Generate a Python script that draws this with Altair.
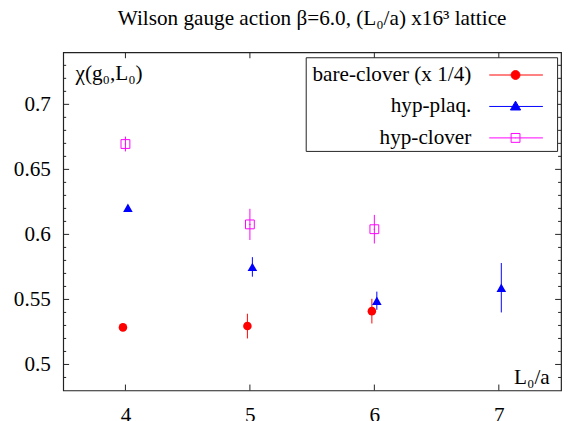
import altair as alt
import pandas as pd

# ---- data ----
series = ["bare-clover (x 1/4)", "hyp-plaq.", "hyp-clover"]
colors = ["#ff0000", "#0000ff", "#ff00ff"]

bare_x = [3.98, 4.98, 5.98]
bare_y = [0.5285, 0.5295, 0.541]
bare_err = [0.002, 0.0095, 0.0095]

plaq_x = [4.02, 5.02, 6.02, 7.02]
plaq_y = [0.6205, 0.575, 0.549, 0.559]
plaq_err = [0.0015, 0.0075, 0.007, 0.019]

hc_x = [4.0, 5.0, 6.0]
hc_y = [0.6695, 0.6077, 0.604]
hc_err = [0.0057, 0.012, 0.011]

x_ticks = [4, 5, 6, 7]
y_major = [0.5, 0.55, 0.6, 0.65, 0.7]
y_minor = [0.49, 0.51, 0.52, 0.53, 0.54, 0.56, 0.57, 0.58, 0.59, 0.61, 0.62,
           0.63, 0.64, 0.66, 0.67, 0.68, 0.69, 0.71, 0.72, 0.73]

FONT = "Liberation Serif"
FS = 21.5
W, H = 505, 343

rows = []
for name, xs_, ys_, es_ in [(series[0], bare_x, bare_y, bare_err),
                            (series[1], plaq_x, plaq_y, plaq_err),
                            (series[2], hc_x, hc_y, hc_err)]:
    for xv, yv, ev in zip(xs_, ys_, es_):
        rows.append({"series": name, "x": xv, "y": yv, "lo": yv - ev, "hi": yv + ev})
df = pd.DataFrame(rows)

xs = alt.Scale(domain=[3.5, 7.5], nice=False, zero=False)
ys = alt.Scale(domain=[0.48, 0.74], nice=False, zero=False)

AX = alt.Axis(
    values=x_ticks, format="d", ticks=False, tickSize=0, domain=False, grid=False,
    labelFont=FONT, labelFontSize=FS, labelColor="black", labelPadding=14,
    title="L\u2080/a", titleFont=FONT, titleFontSize=FS, titleFontWeight="normal",
    titleColor="black", titleAlign="right", titleBaseline="alphabetic",
    titleAnchor="end", titleX=493, titleY=-7)
AY = alt.Axis(
    values=y_major, format="~g", ticks=False, tickSize=0, domain=False, grid=False,
    labelFont=FONT, labelFontSize=FS, labelColor="black", labelPadding=13,
    title="\u03c7(g\u2080,L\u2080)", titleFont=FONT, titleFontSize=FS,
    titleFontWeight="normal", titleColor="black", titleAngle=0,
    titleAlign="left", titleBaseline="alphabetic", titleX=12, titleY=28)

def X(f):
    return alt.X(f, scale=xs, axis=AX)

def Y(f):
    return alt.Y(f, scale=ys, axis=AY)

stroke_scale = alt.Scale(domain=series, range=colors)

# error bars
err = alt.Chart(df).mark_rule(strokeWidth=1).encode(
    x=X("x:Q"), y=Y("lo:Q"), y2="hi:Q",
    stroke=alt.Stroke("series:N", scale=stroke_scale, title=None))

# markers per series
marker_defs = [
    (series[0], dict(shape="circle", filled=True, size=75, color=colors[0])),
    (series[1], dict(shape="triangle-up", filled=True, size=95, color=colors[1])),
    (series[2], dict(shape="square", filled=False, size=80, color=colors[2], strokeWidth=1)),
    (series[2], dict(shape="circle", filled=True, size=2, color=colors[2])),
]

# legend sample (gnuplot style: text, then line with marker); 1 unit = 15.5 px
def circ(cx, r):
    k = round(0.5523 * r, 4)
    return (f"M{cx + r},0 C{cx + r},{k} {cx + k},{r} {cx},{r} C{cx - k},{r} {cx - r},{k} {cx - r},0 "
            f"C{cx - r},{-k} {cx - k},{-r} {cx},{-r} C{cx + k},{-r} {cx + r},{-k} {cx + r},0 Z")

L0, L1, MC, END = 10.85, 14.36, 12.57, 15.0
line = f"M{L0},0H{L1} "
tail = f" M{END},0"
paths = [
    line + circ(MC, 0.29) + tail,
    line + f"M{MC},-0.348 L{MC + 0.335},0.232 L{MC - 0.335},0.232 Z" + tail,
    line + f"M{MC - 0.29},-0.29 H{MC + 0.29} V0.29 H{MC - 0.29} Z M{MC},0 h0.03" + tail,
]
legend_layer = alt.Chart(df).transform_filter("false").mark_point(opacity=1, strokeWidth=1).encode(
    x=X("x:Q"), y=Y("y:Q"),
    shape=alt.Shape("series:N", scale=alt.Scale(domain=series, range=paths), title=None),
    fill=alt.Fill("series:N", scale=alt.Scale(domain=series, range=["#ff0000", "#0000ff", "transparent"]), title=None),
    stroke=alt.Stroke("series:N", scale=stroke_scale, title=None),
)

# inward ticks (gnuplot style), placed through the scales
def yt(vals, x0, x1):
    d = pd.DataFrame({"y": vals})
    return alt.Chart(d).mark_rule(color="#222", strokeWidth=1).encode(
        y=Y("y:Q"), x=alt.value(x0), x2=alt.value(x1))

def xt(vals, y0, y1):
    d = pd.DataFrame({"x": vals})
    return alt.Chart(d).mark_rule(color="#222", strokeWidth=1).encode(
        x=X("x:Q"), y=alt.value(y0), y2=alt.value(y1))

layers = [err]
for name, props in marker_defs:
    layers.append(alt.Chart(df).transform_filter(alt.datum.series == name)
                  .mark_point(opacity=1, **props).encode(x=X("x:Q"), y=Y("y:Q")))
layers.append(legend_layer)
layers += [yt(y_major, 0, 6), yt(y_minor, 0, 3), yt(y_major, W, W - 6), yt(y_minor, W, W - 3),
           xt(x_ticks, H, H - 6), xt(x_ticks, 0, 6)]

chart = alt.layer(*layers).properties(
    width=W, height=H,
    autosize=alt.AutoSizeParams(type="none"),
    padding={"left": 56, "top": 42, "right": 3, "bottom": 28},
    title=alt.Title("Wilson gauge action \u03b2=6.0, (L\u2080/a) x16\u00b3 lattice",
                    font=FONT, fontSize=FS, fontWeight="normal", color="black",
                    anchor="middle", offset=23),
).configure_view(stroke="#222", strokeWidth=1.2).configure_legend(
    orient="none", legendX=246, legendY=5, direction="vertical",
    padding=2, strokeColor="#222", fillColor="white", cornerRadius=0,
    labelFont=FONT, labelFontSize=FS, labelColor="black", labelAlign="right",
    labelOffset=134, symbolOffset=0, symbolSize=961, rowPadding=4.9,
    symbolStrokeWidth=1, labelLimit=400,
)

chart.save("out.html", embed_options={"renderer": "svg", "actions": False})
